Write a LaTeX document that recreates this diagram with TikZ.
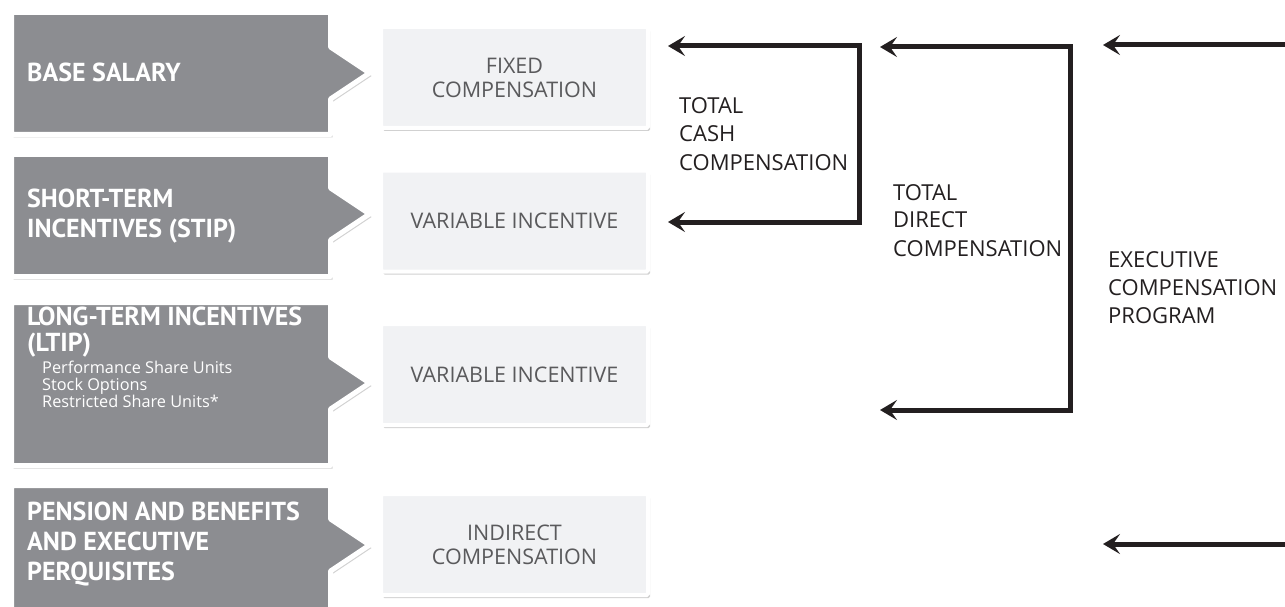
\documentclass[tikz,border=0pt]{standalone}
\usepackage{fontspec}
\setmainfont{Open Sans}
\newfontfamily\ptsans{PT Sans}
\usetikzlibrary{shadows,arrows.meta}
\definecolor{darkfill}{HTML}{8C8D91}
\definecolor{lightfill}{HTML}{F1F2F4}
\definecolor{lighttext}{HTML}{5A5A5C}
\definecolor{labeltext}{HTML}{231F20}
\definecolor{arrowcol}{HTML}{231F20}
\newcommand{\lefttop}[1]{\begin{tabular}[t]{@{}l@{}}#1\end{tabular}}
\tikzset{
  softshadow/.style={
    general shadow={shadow xshift=1pt, shadow yshift=-1pt, fill=black, opacity=0.10, shadow scale=1.004},
    drop shadow={shadow xshift=2pt, shadow yshift=-3pt, opacity=0.3, fill=black!60}},
  darkbox/.style={fill=darkfill, draw=white, line width=5pt, line join=round, softshadow},
  lightbox/.style={fill=lightfill, draw=white, line width=4pt, rounded corners=1.5pt,
    minimum width=267pt, minimum height=101pt, inner sep=0pt,
    align=center, text=lighttext, font=\fontsize{21.5}{24}\selectfont, softshadow},
  darktext/.style={anchor=base west, inner sep=0pt, text=white,
    font=\ptsans\bfseries\fontsize{26}{30}\selectfont},
  tightdark/.style={darktext, font=\ptsans\bfseries\fontsize{26}{26.5}\selectfont},
  smalltext/.style={anchor=base west, inner sep=0pt, text=white,
    font=\fontsize{16.3}{15.5}\selectfont},
  sidelabel/.style={anchor=base west, inner sep=0pt, text=labeltext,
    font=\fontsize{22}{28}\selectfont},
  bracket/.style={draw=arrowcol, line width=5pt, line join=miter,
    {Stealth[length=17pt, width=20pt, inset=7pt]}-{Stealth[length=17pt, width=20pt, inset=7pt]}},
  single/.style={draw=arrowcol, line width=5pt,
    -{Stealth[length=17pt, width=20pt, inset=7pt]}}
}
\begin{document}
\begin{tikzpicture}[x=1pt,y=-1pt]
\useasboundingbox (0,0) rectangle (1285,607);
% dark arrow-shaped boxes
\path[darkbox] (11.5,12.5) -- (330.5,12.5) -- (330.5,47) -- (369.5,73) -- (330.5,99) -- (330.5,134.5) -- (11.5,134.5) -- cycle;
\path[darkbox] (11.5,154.5) -- (330.5,154.5) -- (330.5,188) -- (369.5,214) -- (330.5,240) -- (330.5,276.5) -- (11.5,276.5) -- cycle;
\path[darkbox] (11.5,302.5) -- (330.5,302.5) -- (330.5,357) -- (369.5,383) -- (330.5,409) -- (330.5,465.5) -- (11.5,465.5) -- cycle;
\path[darkbox] (11.5,485.5) -- (330.5,485.5) -- (330.5,519) -- (369.5,545) -- (330.5,571) -- (330.5,625) -- (11.5,625) -- cycle;
% dark box texts
\node[darktext] (base) at (27,82) {BASE SALARY};
\node[darktext] (stip) at (27,207) {\lefttop{SHORT-TERM\\INCENTIVES (STIP)}};
\node[tightdark] (ltip) at (27,325) {\lefttop{LONG-TERM INCENTIVES\\(LTIP)}};
\node[smalltext] (ltipsub) at (42,373) {\lefttop{Performance Share Units\\Stock Options\\Restricted Share Units*}};
\node[darktext] (pens) at (27,520) {\lefttop{PENSION AND BENEFITS\\AND EXECUTIVE\\PERQUISITES}};
% light boxes
\node[lightbox] (fixed) at (514.5,77.5) {FIXED\\COMPENSATION};
\node[lightbox] (var1) at (514.5,221) {VARIABLE INCENTIVE};
\node[lightbox] (var2) at (514.5,374.5) {VARIABLE INCENTIVE};
\node[lightbox] (indir) at (514.5,544.5) {INDIRECT\\COMPENSATION};
% bracket coordinates
\coordinate (t1) at (668,46);
\coordinate (c1a) at (859,46);
\coordinate (c1b) at (859,222);
\coordinate (b1) at (668,222);
\coordinate (t2) at (880,47);
\coordinate (c2a) at (1070,47);
\coordinate (c2b) at (1070,410);
\coordinate (b2) at (880,410);
\coordinate (r1) at (1290,45);
\coordinate (t3) at (1103,45);
\coordinate (r2) at (1290,544);
\coordinate (b3) at (1103,544);
\draw[bracket] (t1) -- (c1a) -- (c1b) -- (b1);
\draw[bracket] (t2) -- (c2a) -- (c2b) -- (b2);
\draw[single] (r1) -- (t3);
\draw[single] (r2) -- (b3);
% side labels
\node[sidelabel] (tcc) at (679,114) {\lefttop{TOTAL\\CASH\\COMPENSATION}};
\node[sidelabel] (tdc) at (893,200) {\lefttop{TOTAL\\DIRECT\\COMPENSATION}};
\node[sidelabel] (ecp) at (1108,267) {\lefttop{EXECUTIVE\\COMPENSATION\\PROGRAM}};
\end{tikzpicture}
\end{document}
